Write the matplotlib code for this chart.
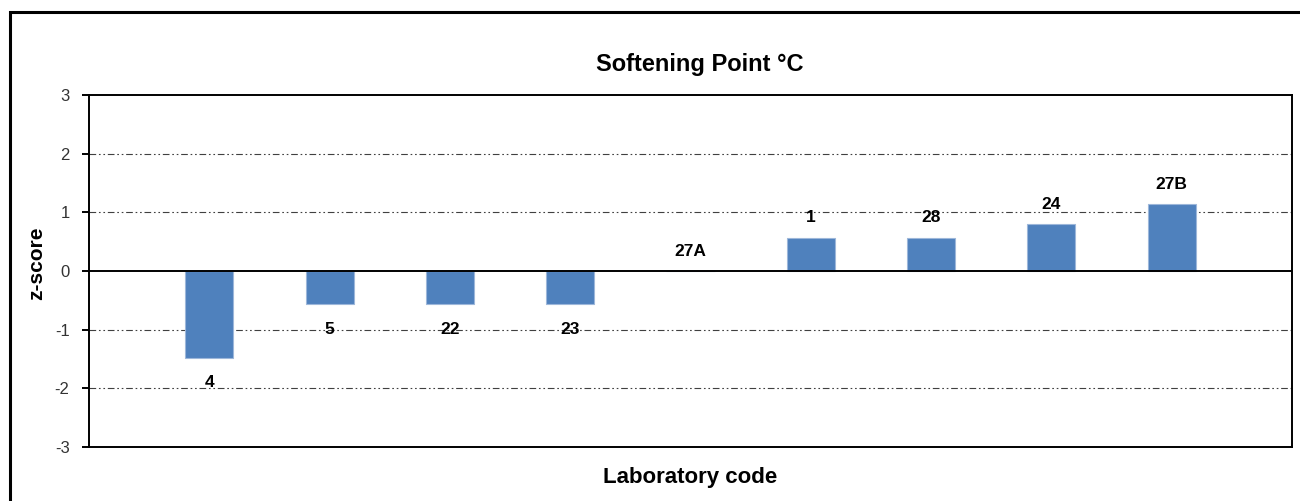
import matplotlib.pyplot as plt
from matplotlib.patches import Rectangle

labs = ["4", "5", "22", "23", "27A", "1", "28", "24", "27B"]
zscores = [-1.48, -0.57, -0.57, -0.57, 0.0, 0.57, 0.57, 0.80, 1.14]
yticks = [-3, -2, -1, 0, 1, 2, 3]

plt.rcParams['font.family'] = ['Liberation Sans', 'DejaVu Sans']
plt.rcParams['axes.unicode_minus'] = False

fig = plt.figure(figsize=(13, 5.01), dpi=100)
ax = fig.add_axes([89 / 1300, 1 - 447 / 501, (1292 - 89) / 1300, (447 - 95) / 501])

# outer chart frame (runs off the right and bottom edges)
fig.patches.append(Rectangle((10 / 1300, -0.1), 1.2, 1 - 12 / 501 + 0.1,
                             transform=fig.transFigure, fill=False,
                             edgecolor='black', linewidth=2.2, clip_on=False))

xs = list(range(1, len(labs) + 1))
ax.bar(xs, zscores, width=0.4, color='#4F81BD', edgecolor='#9DB7DA',
       linewidth=0.8, zorder=3)

for x, v, t in zip(xs, zscores, labs):
    off = 20 if v >= 0 else -25
    ax.annotate(t, (x, v), xytext=(0, off * 0.72), textcoords='offset points',
                ha='center', va='center', fontsize=12.5, fontweight='bold', zorder=4)

for y in yticks:
    if y in (0, 3, -3):
        continue
    ax.axhline(y, color='#404040', linewidth=0.8,
               dashes=(6, 2.5, 1.5, 2.5, 1.5, 2.5), zorder=1)
ax.axhline(0, color='black', linewidth=1.4, zorder=5)

ax.set_xlim(0, 10)
ax.set_ylim(-3, 3)
ax.set_yticks(yticks)
ax.set_xticks([])
ax.tick_params(axis='y', direction='out', length=5, width=1.4, labelsize=12,
               labelcolor='#333333', pad=9)
for s in ax.spines.values():
    s.set_linewidth(1.4)
    s.set_color('black')

fig.text(700 / 1300, 1 - 64 / 501, "Softening Point °C", fontsize=17,
         fontweight='bold', ha='center', va='center')
fig.text(37 / 1300, 1 - 263 / 501, "z-score", fontsize=15, fontweight='bold',
         ha='center', va='center', rotation=90)
fig.text(690 / 1300, 1 - 478 / 501, "Laboratory code", fontsize=16,
         fontweight='bold', ha='center', va='center')

fig.savefig("out.png", dpi=100)
